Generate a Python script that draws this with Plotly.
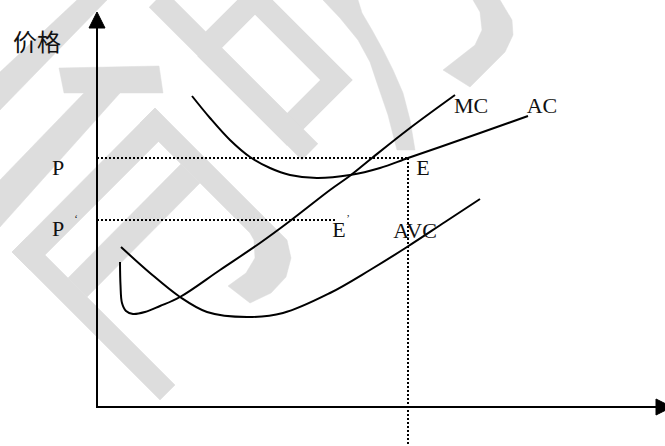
import plotly.graph_objects as go

# ---------------- data (canvas units, y grows downward) ----------------
mc_x = [120, 120.5, 122, 126, 133, 145, 160, 180, 220, 260, 290, 330, 351, 372, 410, 455]
mc_y = [262, 285, 303, 311, 314, 312, 306, 297, 270, 243, 221, 190, 175, 158, 128, 95]

avc_x = [121, 150, 180, 207, 247, 283, 330, 370, 407, 445, 480]
avc_y = [247, 273, 297, 312, 317, 313, 293, 270, 247, 222, 199]

ac_x = [192, 210, 230, 250, 270, 290, 317, 350, 380, 408, 440, 480, 528]
ac_y = [96, 118, 140, 157, 168, 175, 178, 175, 168, 158, 147, 133, 116]

price_levels = [158, 220]          # P, P'
price_ends = [408, 335]            # where the dotted price lines stop
q_x = 408                          # output at E

label_text = ["MC", "AC", "E", "E", "AVC", "P", "P"]
label_x = [471, 542, 423, 339, 415, 58, 58]
label_y = [107, 107, 169, 231, 232, 169, 230]
prime_x = [76, 348]
prime_y = [219, 219]

axis_title = "价格"

# light watermark behind the chart
wm_polys = [
    [(0, 72), (77, 0), (107, 0), (0, 110)],
    [(59, 68), (159, 66), (163, 93), (64, 93)],
    [(0, 180), (84, 93), (120, 93), (0, 227)],
    [(12, 252), (155, 108), (173, 127), (30, 270)],
    [(155, 108), (265, 218), (250, 233), (140, 123)],
    [(12, 252), (160, 400), (175, 385), (27, 237)],
    [(68, 278), (181, 164), (200, 183), (87, 297)],
    [(265, 218), (287, 240), (291, 258), (286, 277), (271, 293), (250, 303),
     (228, 286), (246, 273), (255, 258), (254, 240), (250, 233)],
    [(323, 0), (340, 18), (358, 40), (370, 62), (377, 83), (388, 115), (397, 150),
     (415, 150), (410, 120), (403, 93), (393, 70), (383, 50), (372, 30), (362, 13), (358, 0)],
    [(473, 0), (500, 0), (512, 20), (513, 35), (505, 52), (470, 87), (443, 70),
     (475, 45), (482, 30), (480, 12)],
]
wm_ring = [(205.5, 48), (255, -1.5), (336.5, 80), (287, 129.5), (205.5, 48)]
wm_band = [(157, -1), (310, 152)]

WM = "#dddddd"
INK = "black"

fig = go.Figure()

for poly in wm_polys:
    xs = [p[0] for p in poly] + [poly[0][0]]
    ys = [p[1] for p in poly] + [poly[0][1]]
    fig.add_trace(go.Scatter(x=xs, y=ys, mode="lines", fill="toself",
                             fillcolor=WM, line=dict(color=WM, width=0.5),
                             hoverinfo="skip"))
fig.add_trace(go.Scatter(x=[p[0] for p in wm_ring], y=[p[1] for p in wm_ring],
                         mode="lines", line=dict(color=WM, width=23), hoverinfo="skip"))
fig.add_trace(go.Scatter(x=[p[0] for p in wm_band], y=[p[1] for p in wm_band],
                         mode="lines", line=dict(color=WM, width=23), hoverinfo="skip"))

# dotted guide lines
for lvl, end in zip(price_levels, price_ends):
    fig.add_trace(go.Scatter(x=[97, end], y=[lvl, lvl], mode="lines",
                             line=dict(color=INK, width=2, dash="2px,2px")))
fig.add_trace(go.Scatter(x=[q_x, q_x], y=[price_levels[0], 446], mode="lines",
                         line=dict(color=INK, width=2, dash="2px,2px")))

# axes with arrows
fig.add_trace(go.Scatter(x=[97, 97], y=[408, 26], mode="lines", line=dict(color=INK, width=2)))
fig.add_trace(go.Scatter(x=[96, 658], y=[407, 407], mode="lines", line=dict(color=INK, width=2)))
fig.add_trace(go.Scatter(x=[89, 105, 97, 89], y=[28, 28, 12, 28], mode="lines", fill="toself",
                         fillcolor=INK, line=dict(color=INK, width=1)))
fig.add_trace(go.Scatter(x=[656, 656, 672, 656], y=[399, 415, 407, 399], mode="lines", fill="toself",
                         fillcolor=INK, line=dict(color=INK, width=1)))

# cost curves
for cx, cy in [(mc_x, mc_y), (avc_x, avc_y), (ac_x, ac_y)]:
    fig.add_trace(go.Scatter(x=cx, y=cy, mode="lines",
                             line=dict(color=INK, width=2, shape="spline", smoothing=1.0)))

# labels
fig.add_trace(go.Scatter(x=label_x, y=label_y, mode="text", text=label_text,
                         textposition="middle center",
                         textfont=dict(family="Liberation Serif", size=22, color="#111111")))
fig.add_trace(go.Scatter(x=prime_x, y=prime_y, mode="text", text=["‘", "’"],
                         textposition="middle center",
                         textfont=dict(family="Liberation Serif", size=11, color="#111111")))
fig.add_trace(go.Scatter(x=[37], y=[45], mode="text", text=[axis_title],
                         textposition="middle center",
                         textfont=dict(family="Noto Sans CJK SC", size=24, color="#111111")))

fig.update_layout(
    width=665, height=446, autosize=False,
    margin=dict(l=0, r=0, t=0, b=0),
    paper_bgcolor="white", plot_bgcolor="white",
    showlegend=False,
    hovermode=False,
    xaxis=dict(range=[0, 665], visible=False, fixedrange=True),
    yaxis=dict(range=[446, 0], visible=False, fixedrange=True),
)

fig.write_html("out.html", config={"displayModeBar": False},
               post_script="document.body.style.margin='0';")
